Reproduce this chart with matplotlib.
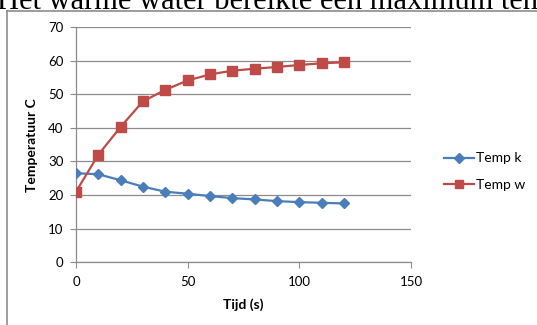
import numpy as np
import matplotlib
matplotlib.use('Agg')
import matplotlib.pyplot as plt
from matplotlib.lines import Line2D

# data
tijd = [0, 10, 20, 30, 40, 50, 60, 70, 80, 90, 100, 110, 120]
temp_k = [26.5, 26.2, 24.4, 22.5, 21.0, 20.4, 19.7, 19.1, 18.7, 18.2, 17.9, 17.7, 17.5]
temp_w = [21.0, 32.0, 40.3, 47.9, 51.3, 54.1, 55.9, 57.0, 57.6, 58.1, 58.7, 59.2, 59.5]

x_ticks = [0, 50, 100, 150]
y_ticks = [0, 10, 20, 30, 40, 50, 60, 70]

blue = '#4A7EBB'
red = '#BE4B48'
grid_c = '#8C8C8C'

plt.rcParams['font.family'] = ['Lato', 'DejaVu Sans']

fig = plt.figure(figsize=(5.37, 3.25), dpi=100)

# cropped document text above the chart
fig.text(-0.005, 1 - 9 / 325, 'Het warme water bereikte een maximum ten',
         fontsize=22, family=['Liberation Serif'], va='baseline', ha='left')

# chart frame (only left and top edges visible)
fig.add_artist(Line2D([7 / 537, 7 / 537], [0, 1 - 11 / 325], color='#8C8C8C', lw=1.2))
fig.add_artist(Line2D([7 / 537, 1], [1 - 11 / 325, 1 - 11 / 325], color='#8C8C8C', lw=1.2))

ax = fig.add_axes([76 / 537, 1 - 262.3 / 325, (411 - 76) / 537, (262.3 - 27) / 325])
ax.plot(tijd, temp_k, color=blue, lw=1.6, marker='D', ms=5.5, label='Temp k', zorder=3)
ax.plot(tijd, temp_w, color=red, lw=1.6, marker='s', ms=6.5, label='Temp w', zorder=3)

ax.set_xlim(0, 150)
ax.set_ylim(0, 70)
ax.set_xticks(x_ticks)
ax.set_yticks(y_ticks)
ax.yaxis.grid(True, color=grid_c, lw=0.9)
ax.set_axisbelow(True)
for s in ['top', 'right']:
    ax.spines[s].set_visible(False)
for s in ['left', 'bottom']:
    ax.spines[s].set_color(grid_c)
    ax.spines[s].set_linewidth(0.9)
ax.tick_params(axis='both', direction='out', length=4, color=grid_c, labelsize=9.5, pad=6)
ax.tick_params(axis='y', pad=5)
ax.set_xlabel('Tijd (s)', fontsize=10, fontweight='bold', labelpad=7)
ax.set_ylabel('Temperatuur C', fontsize=10, fontweight='bold', labelpad=7)

ax.legend(loc='center left', bbox_to_anchor=(1.06, 0.385), frameon=False,
          fontsize=10, handlelength=2.2, handletextpad=0.1, labelspacing=1.05,
          markerscale=0.9)

fig.savefig('out.png', dpi=100)
